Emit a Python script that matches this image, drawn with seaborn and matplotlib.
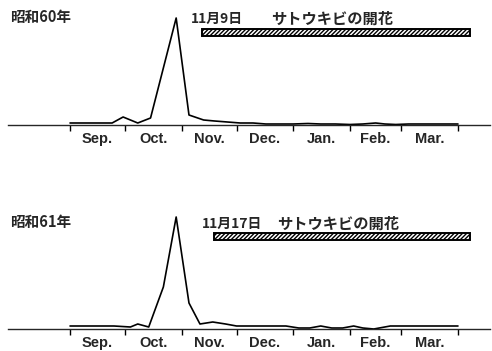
import numpy as np
import pandas as pd
import seaborn as sns
import matplotlib.pyplot as plt

# days counted from Sep 1; month boundaries Sep..Mar
month_names = ["Sep.", "Oct.", "Nov.", "Dec.", "Jan.", "Feb.", "Mar."]
month_days = [30, 31, 30, 31, 31, 28, 31]

# 昭和60年
days60 = [0, 8, 16, 23, 29, 37, 44, 58, 65, 73, 79, 86, 93, 100, 107, 114,
          122, 130, 137, 145, 153, 160, 167, 172, 178, 185, 195, 205, 212]
vals60 = [2, 2, 2, 2, 8, 2, 7, 107, 10, 5, 4, 3, 2, 2, 1, 1,
          1, 1.5, 1, 1, 0.5, 1, 2, 1, 0.5, 1, 1, 1, 1]

# 昭和61年
days61 = [0, 8, 16, 24, 33, 37, 43, 51, 58, 65, 71, 78, 85, 91, 100, 110,
          118, 125, 131, 137, 143, 149, 155, 160, 166, 175, 185, 195, 205, 212]
vals61 = [3, 3, 3, 3, 2, 5, 2, 42, 112, 26, 5, 7, 5, 3, 3, 3,
          3, 1, 1, 3, 1, 1, 3, 1, 0, 3, 3, 3, 3, 3]

# flowering period of sugarcane (start day, end day), as drawn
flower60 = (72, 218.5)
flower61 = (78.5, 218.5)

years = ["昭和60年", "昭和61年"]
flower_labels = ["11月9日", "11月17日"]

sns.set_style("white")
plt.rcParams['font.family'] = ['Noto Sans CJK JP', 'DejaVu Sans']
plt.rcParams['hatch.linewidth'] = 1.0

fig = plt.figure(figsize=(4.92, 3.51), dpi=100)
W, H = 492, 351

bounds = np.concatenate([[0], np.cumsum(month_days)])
mids = (bounds[:-1] + bounds[1:]) / 2


def panel(base_px, days, vals, flower, year, flabel, flabel_x, sato_x, ty):
    ax = fig.add_axes([8 / W, (H - base_px) / H, 482 / W, 120 / H])
    df = pd.DataFrame({"day": days, "val": vals})
    sns.lineplot(data=df, x="day", y="val", ax=ax, color="black",
                 linewidth=1.2, estimator=None)
    ax.barh(92.5, flower[1] - flower[0], left=flower[0], height=7,
            color="white", edgecolor="black", hatch="////////", linewidth=1.4)
    ax.set_xlim(-33.9, 229.5)
    ax.set_ylim(0, 120)
    for s in ["top", "right", "left"]:
        ax.spines[s].set_visible(False)
    ax.spines["bottom"].set_linewidth(1.0)
    ax.set_yticks([])
    ax.set_xticks(bounds)
    ax.set_xticklabels([])
    ax.set_xticks(mids, minor=True)
    ax.set_xticklabels(month_names, minor=True, fontfamily="Liberation Sans",
                       fontweight="bold", fontsize=10.5)
    ax.tick_params(axis="x", which="major", direction="out", length=4,
                   width=1.0, color="black", bottom=True)
    ax.tick_params(axis="x", which="minor", length=0, pad=5, bottom=True)
    ax.set_xlabel("")
    ax.set_ylabel("")
    ax.text(-33, ty + 2, year, fontsize=10.5, fontweight="bold", va="center")
    ax.text(flabel_x, ty, flabel, fontsize=10, fontweight="bold", va="center")
    ax.text(sato_x, ty, "サトウキビの開花", fontsize=11, fontweight="bold",
            va="center")
    return ax


panel(125, days60, vals60, flower60, years[0], flower_labels[0], 66, 110, 106)
panel(329, days61, vals61, flower61, years[1], flower_labels[1], 72, 113, 105)

fig.savefig("out.png", dpi=100, facecolor="white")
